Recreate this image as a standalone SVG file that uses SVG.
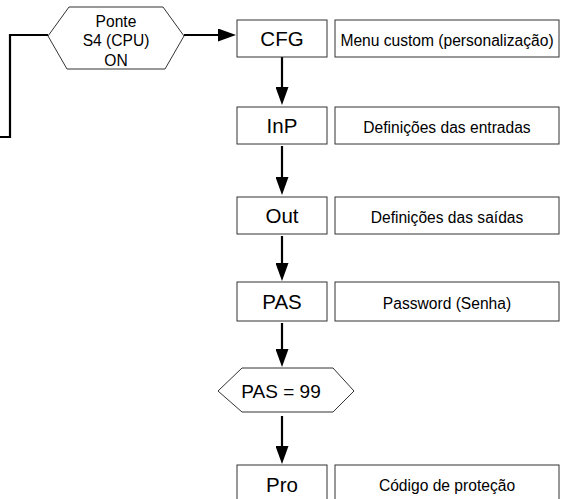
<svg xmlns="http://www.w3.org/2000/svg" width="561" height="499" viewBox="0 0 561 499">
<style>
.box{fill:#fff;stroke:#333;stroke-width:1}
.lbl{font-family:"Liberation Sans",Arial,sans-serif;font-size:20.5px;fill:#000;text-anchor:middle}
.dsc{font-family:"Liberation Sans",Arial,sans-serif;font-size:15.6px;fill:#000;text-anchor:middle}
.con{fill:none;stroke:#000;stroke-width:2.2}
</style>
<defs>
<marker id="ah" markerUnits="userSpaceOnUse" markerWidth="18" markerHeight="13" refX="10" refY="6.5" orient="auto">
<path d="M0,0 L18,6.5 L0,13 z" fill="#000"/>
</marker>
</defs>
<rect width="561" height="499" fill="#fff"/>
<g id="connectors">
<polyline class="con" points="48,35 10,35 10,137 0,137"/>
<line class="con" x1="184" y1="35" x2="228" y2="35" marker-end="url(#ah)"/>
<line class="con" x1="282" y1="57" x2="282" y2="97" marker-end="url(#ah)"/>
<line class="con" x1="282" y1="146" x2="282" y2="187" marker-end="url(#ah)"/>
<line class="con" x1="282" y1="236" x2="282" y2="273" marker-end="url(#ah)"/>
<line class="con" x1="282" y1="323" x2="282" y2="359" marker-end="url(#ah)"/>
<line class="con" x1="282" y1="416" x2="282" y2="456" marker-end="url(#ah)"/>
</g>
<g id="ponte">
<polygon class="box" points="48,36 69,7 163,7 184,36 165,69 67,69"/>
<text class="dsc" x="116" y="26.5">Ponte</text>
<text class="dsc" x="116" y="45.5">S4 (CPU)</text>
<text class="dsc" x="116" y="65.5">ON</text>
</g>
<g id="cfg">
<rect class="box" x="237" y="20" width="90" height="37"/>
<text class="lbl" x="282" y="46">CFG</text>
</g>
<g id="cfg-desc">
<rect class="box" x="335" y="20" width="224" height="37"/>
<text class="dsc" x="447" y="45.5">Menu custom (personalização)</text>
</g>
<g id="inp">
<rect class="box" x="237" y="107" width="90" height="37"/>
<text class="lbl" x="282" y="133">InP</text>
</g>
<g id="inp-desc">
<rect class="box" x="335" y="107" width="224" height="37"/>
<text class="dsc" x="447" y="132.5">Definições das entradas</text>
</g>
<g id="out">
<rect class="box" x="237" y="197" width="90" height="37"/>
<text class="lbl" x="282" y="223">Out</text>
</g>
<g id="out-desc">
<rect class="box" x="335" y="197" width="224" height="37"/>
<text class="dsc" x="447" y="222.5">Definições das saídas</text>
</g>
<g id="pas">
<rect class="box" x="237" y="282" width="90" height="39"/>
<text class="lbl" x="282" y="309">PAS</text>
</g>
<g id="pas-desc">
<rect class="box" x="335" y="282" width="224" height="39"/>
<text class="dsc" x="447" y="308.5">Password (Senha)</text>
</g>
<g id="pas99">
<polygon class="box" points="218,391 242,368 333,368 354,391 333,412 242,412"/>
<text class="lbl" x="281" y="398" style="font-size:19px">PAS = 99</text>
</g>
<g id="pro">
<rect class="box" x="237" y="465" width="90" height="37"/>
<text class="lbl" x="282" y="491.5">Pro</text>
</g>
<g id="pro-desc">
<rect class="box" x="335" y="465" width="224" height="37"/>
<text class="dsc" x="447" y="490.5">Código de proteção</text>
</g>
</svg>
